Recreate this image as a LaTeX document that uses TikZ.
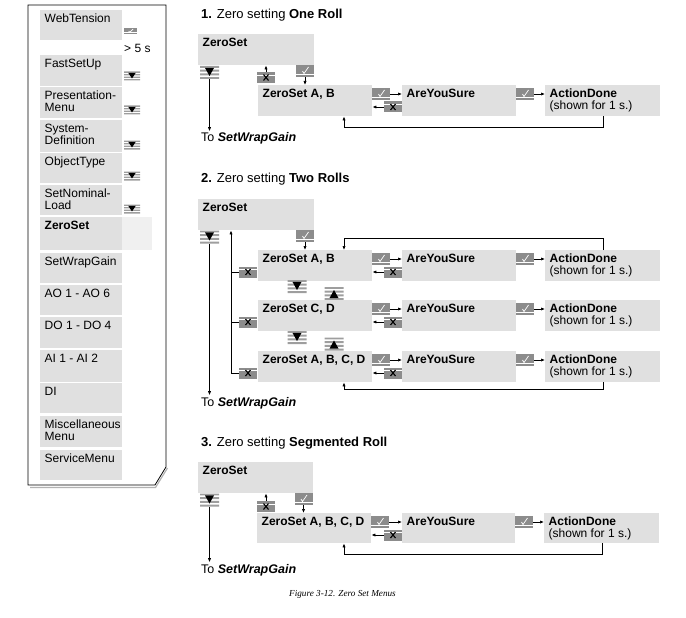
\documentclass[tikz,border=0pt]{standalone}
\usepackage{fontspec}
\setmainfont{Liberation Sans}
\newfontfamily\capfont{Liberation Serif}
\usetikzlibrary{arrows.meta,calc}
\definecolor{boxgray}{gray}{0.88}
\definecolor{lightbox}{gray}{0.94}
\definecolor{icongray}{gray}{0.55}
\definecolor{stripegray}{gray}{0.62}
\tikzset{
  gbox/.style={fill=boxgray,anchor=north west,inner sep=0pt,draw=none},
  lbl/.style={anchor=base west,inner sep=0pt},
  ttl/.style={anchor=base west,inner sep=0pt,font=\fontsize{13}{15}\selectfont},
  tolbl/.style={anchor=base west,inner sep=0pt,font=\fontsize{12.5}{15}\selectfont},
  arr/.style={line width=0.7pt,-{Latex[length=4pt,width=3.2pt]}},
  ln/.style={line width=0.7pt},
}
\newcommand\gbox[5]{\node[gbox,minimum width={#4pt-#2pt},minimum height={#5pt-#3pt}] (#1) at (#2,#3) {};}
\newcommand\glbl[3]{\node[lbl] (#1) at ($(#2.north west)+(4.5,12.5)$) {#3};}
\newcommand\glblb[3]{\node[lbl] (#1) at ($(#2.north west)+(4.5,24.5)$) {#3};}
\newcommand\chkicon[5]{%
  \node[fill=icongray,inner sep=0pt,minimum width=#4pt,minimum height=#5pt] (#1) at (#2,#3) {};
  \begin{scope}[shift={(#1.center)},xscale=#4/18,yscale=#5/12]
    \draw[white,line width=0.6pt] (-9pt,-3pt) -- (9pt,-3pt);
    \draw[white,line width=0.7pt] (-2.5pt,0pt) -- (-1pt,-2.5pt) -- (3.5pt,4pt);
  \end{scope}}
\newcommand\xicon[3]{%
  \node[fill=icongray,inner sep=0pt,minimum width=18pt,minimum height=11pt] (#1) at (#2,#3) {};
  \begin{scope}[shift={(#1.center)}]
    \draw[white,line width=0.6pt] (-9pt,2.5pt) -- (9pt,2.5pt);
    \draw[black,line width=1.1pt] (-2.5pt,-3pt) -- (2.5pt,3pt) (-2.5pt,3pt) -- (2.5pt,-3pt);
  \end{scope}}
\newcommand\stripes{%
  \fill[stripegray] (-9.5pt,4.6pt) rectangle (9.5pt,6.5pt)
     (-9.5pt,0.9pt) rectangle (9.5pt,2.8pt)
     (-9.5pt,-2.8pt) rectangle (9.5pt,-0.9pt)
     (-9.5pt,-6.5pt) rectangle (9.5pt,-4.6pt);}
\newcommand\dnicon[5]{%
  \node[inner sep=0pt,minimum width=#4pt,minimum height=#5pt] (#1) at (#2,#3) {};
  \begin{scope}[shift={(#1.center)},xscale=#4/19,yscale=#5/13]
    \stripes
    \fill[black] (-4.5pt,4.6pt) -- (4.5pt,4.6pt) -- (0pt,-3.5pt) -- cycle;
  \end{scope}}
\newcommand\upicon[5]{%
  \node[inner sep=0pt,minimum width=#4pt,minimum height=#5pt] (#1) at (#2,#3) {};
  \begin{scope}[shift={(#1.center)},xscale=#4/19,yscale=#5/13]
    \stripes
    \fill[black] (-4.5pt,-4.6pt) -- (4.5pt,-4.6pt) -- (0pt,3.5pt) -- cycle;
  \end{scope}}
\begin{document}
\begin{tikzpicture}[x=1pt,y=-1pt,font=\fontsize{12}{14}\selectfont]
\useasboundingbox (0,0) rectangle (686,618);
% ---------------- left panel
\draw[gray!60,line width=1.2pt] (30,487.5) -- (155.5,487.5) -- (167.5,468);
\draw[line width=0.8pt] (28,5) -- (166,5) -- (166,467) -- (155,485) -- (28,485) -- cycle;
\gbox{p1}{40}{10}{122}{40} \glbl{p1t}{p1}{WebTension}
\gbox{p2}{40}{55}{122}{86} \glbl{p2t}{p2}{FastSetUp}
\gbox{p3}{40}{87}{122}{118} \glbl{p3t}{p3}{Presentation-} \glblb{p3u}{p3}{Menu}
\gbox{p4}{40}{120}{122}{152} \glbl{p4t}{p4}{System-} \glblb{p4u}{p4}{Definition}
\gbox{p5}{40}{153}{122}{183} \glbl{p5t}{p5}{ObjectType}
\gbox{p6}{40}{185}{122}{215} \glbl{p6t}{p6}{SetNominal-} \glblb{p6u}{p6}{Load}
\fill[lightbox] (122,217) rectangle (152,250);
\gbox{p7}{40}{217}{122}{250} \glbl{p7t}{p7}{\textbf{ZeroSet}}
\gbox{p8}{40}{253}{122}{283} \glbl{p8t}{p8}{SetWrapGain}
\gbox{p9}{40}{285}{122}{315} \glbl{p9t}{p9}{AO 1 - AO 6}
\gbox{p10}{40}{317}{122}{348} \glbl{p10t}{p10}{DO 1 - DO 4}
\gbox{p11}{40}{350}{122}{382} \glbl{p11t}{p11}{AI 1 - AI 2}
\gbox{p12}{40}{383}{122}{413} \glbl{p12t}{p12}{DI}
\gbox{p13}{40}{416}{122}{447} \glbl{p13t}{p13}{Miscellaneous} \glblb{p13u}{p13}{Menu}
\gbox{p14}{40}{450}{122}{480} \glbl{p14t}{p14}{ServiceMenu}
\chkicon{pk}{130.5}{31}{13}{6}
\node[lbl] (p5s) at (124,52.5) {> 5 s};
\dnicon{pd2}{132}{76}{16}{9}
\dnicon{pd3}{132}{110}{16}{9}
\dnicon{pd4}{132}{145}{16}{9}
\dnicon{pd5}{132}{176}{16}{9}
\dnicon{pd6}{132}{209}{16}{9}
% ---------------- section 1
\node[ttl] (t1) at (201,18.5) {\textbf{1.} Zero setting \textbf{One Roll}};
\gbox{zs1}{198}{34}{314}{65} \glbl{zs1t}{zs1}{\textbf{ZeroSet}}
\dnicon{d1}{209.5}{72.5}{19}{13}
\node[tolbl] (to1) at (201,142) {To \textbf{\textit{SetWrapGain}}};
\draw[arr,shorten >=1.5pt] (d1.south) -- (d1.south |- to1.north);
\xicon{x1}{266}{77.5}
\draw[arr] (x1.north) -- (x1.north |- zs1.south);
\chkicon{k1}{305}{71}{18}{12}
\gbox{zab1}{258}{85}{372}{116} \glbl{zab1t}{zab1}{\textbf{ZeroSet A, B}}
\draw[arr] (k1.south) -- (k1.south |- zab1.north);
\gbox{ays1}{402}{85}{516}{116} \glbl{ays1t}{ays1}{\textbf{AreYouSure}}
\gbox{ad1}{545}{85}{660}{116} \glbl{ad1t}{ad1}{\textbf{ActionDone}} \glblb{ad1u}{ad1}{(shown for 1 s.)}
\chkicon{k2}{381}{94}{18}{12}
\draw[arr] (k2.east) -- (k2.east -| ays1.west);
\xicon{x2}{393}{107}
\draw[arr] (x2.west) -- (x2.west -| zab1.east);
\chkicon{k3}{525}{94}{18}{12}
\draw[arr] (k3.east) -- (k3.east -| ad1.west);
\coordinate (fb1a) at (603,127);
\coordinate (fb1b) at (344,127);
\draw[arr] (fb1a |- ad1.south) -- (fb1a) -- (fb1b) -- (fb1b |- zab1.south);
% ---------------- section 2
\node[ttl] (t2) at (201,182) {\textbf{2.} Zero setting \textbf{Two Rolls}};
\gbox{zs2}{198}{199}{314}{230} \glbl{zs2t}{zs2}{\textbf{ZeroSet}}
\dnicon{d2}{209.5}{237}{19}{13}
\node[tolbl] (to2) at (201,406) {To \textbf{\textit{SetWrapGain}}};
\draw[arr,shorten >=1.5pt] (d2.south) -- (d2.south |- to2.north);
\chkicon{k4}{305}{236}{18}{12}
% row 1
\gbox{zab2}{258}{250}{372}{281} \glbl{zab2t}{zab2}{\textbf{ZeroSet A, B}}
\gbox{ays2}{402}{250}{516}{281} \glbl{ays2t}{ays2}{\textbf{AreYouSure}}
\gbox{ad2}{545}{250}{660}{281} \glbl{ad2t}{ad2}{\textbf{ActionDone}} \glblb{ad2u}{ad2}{(shown for 1 s.)}
\draw[arr] (k4.south) -- (k4.south |- zab2.north);
\chkicon{k5}{381}{259}{18}{12}
\draw[arr] (k5.east) -- (k5.east -| ays2.west);
\xicon{x5}{393}{272}
\draw[arr] (x5.west) -- (x5.west -| zab2.east);
\chkicon{k6}{525}{259}{18}{12}
\draw[arr] (k6.east) -- (k6.east -| ad2.west);
\xicon{xa}{248}{272}
\coordinate (fb2a) at (603,238);
\coordinate (fb2b) at (344,238);
\draw[arr] (fb2a |- ad2.north) -- (fb2a) -- (fb2b) -- (fb2b |- zab2.north);
% row 2
\dnicon{d21}{297}{286.5}{19}{13}
\upicon{u21}{334}{293.5}{19}{13}
\gbox{zcd2}{258}{300}{372}{331} \glbl{zcd2t}{zcd2}{\textbf{ZeroSet C, D}}
\gbox{ays3}{402}{300}{516}{331} \glbl{ays3t}{ays3}{\textbf{AreYouSure}}
\gbox{ad3}{545}{300}{660}{331} \glbl{ad3t}{ad3}{\textbf{ActionDone}} \glblb{ad3u}{ad3}{(shown for 1 s.)}
\chkicon{k7}{381}{309}{18}{12}
\draw[arr] (k7.east) -- (k7.east -| ays3.west);
\xicon{x7}{393}{322}
\draw[arr] (x7.west) -- (x7.west -| zcd2.east);
\chkicon{k8}{525}{309}{18}{12}
\draw[arr] (k8.east) -- (k8.east -| ad3.west);
\xicon{xb}{248}{322}
% row 3
\dnicon{d22}{297}{337.5}{19}{13}
\upicon{u22}{334}{344}{19}{13}
\gbox{zabcd2}{258}{351}{372}{382} \glbl{zabcd2t}{zabcd2}{\textbf{ZeroSet A, B, C, D}}
\gbox{ays4}{402}{351}{516}{382} \glbl{ays4t}{ays4}{\textbf{AreYouSure}}
\gbox{ad4}{545}{351}{660}{382} \glbl{ad4t}{ad4}{\textbf{ActionDone}} \glblb{ad4u}{ad4}{(shown for 1 s.)}
\chkicon{k9}{381}{360}{18}{12}
\draw[arr] (k9.east) -- (k9.east -| ays4.west);
\xicon{x9}{393}{373}
\draw[arr] (x9.west) -- (x9.west -| zabcd2.east);
\chkicon{k10}{525}{360}{18}{12}
\draw[arr] (k10.east) -- (k10.east -| ad4.west);
\xicon{xc}{248}{373}
\coordinate (fb3a) at (603,389);
\coordinate (fb3b) at (344,389);
\draw[arr] (fb3a |- ad4.south) -- (fb3a) -- (fb3b) -- (fb3b |- zabcd2.south);
% up line to ZeroSet
\coordinate (upx) at (231,300);
\draw[arr] (xc.west) -- (xc.west -| upx) -- (upx |- zs2.south);
\draw[ln] (xa.west) -- (xa.west -| upx);
\draw[ln] (xb.west) -- (xb.west -| upx);
% ---------------- section 3
\node[ttl] (t3) at (201,446) {\textbf{3.} Zero setting \textbf{Segmented Roll}};
\gbox{zs3}{198}{462}{313}{493} \glbl{zs3t}{zs3}{\textbf{ZeroSet}}
\dnicon{d3}{209.5}{500}{19}{13}
\node[tolbl] (to3) at (201,573) {To \textbf{\textit{SetWrapGain}}};
\draw[arr,shorten >=1.5pt] (d3.south) -- (d3.south |- to3.north);
\xicon{x31}{266}{506.5}
\draw[arr] (x31.north) -- (x31.north |- zs3.south);
\chkicon{k31}{303.5}{499}{18}{12}
\gbox{zabcd3}{257}{513}{371}{543} \glbl{zabcd3t}{zabcd3}{\textbf{ZeroSet A, B, C, D}}
\draw[arr] (k31.south) -- (k31.south |- zabcd3.north);
\gbox{ays5}{402}{513}{515}{543} \glbl{ays5t}{ays5}{\textbf{AreYouSure}}
\gbox{ad5}{544}{513}{659}{543} \glbl{ad5t}{ad5}{\textbf{ActionDone}} \glblb{ad5u}{ad5}{(shown for 1 s.)}
\chkicon{k32}{380}{522}{18}{12}
\draw[arr] (k32.east) -- (k32.east -| ays5.west);
\xicon{x32}{393}{535}
\draw[arr] (x32.west) -- (x32.west -| zabcd3.east);
\chkicon{k33}{524}{522}{18}{12}
\draw[arr] (k33.east) -- (k33.east -| ad5.west);
\coordinate (fb4a) at (602,554);
\coordinate (fb4b) at (344,554);
\draw[arr] (fb4a |- ad5.south) -- (fb4a) -- (fb4b) -- (fb4b |- zabcd3.south);
% caption
\node[font=\capfont\itshape\fontsize{9.2}{11}\selectfont,anchor=base,inner sep=0pt] (cap) at (342.5,596) {Figure 3-12. Zero Set Menus};
\end{tikzpicture}
\end{document}
